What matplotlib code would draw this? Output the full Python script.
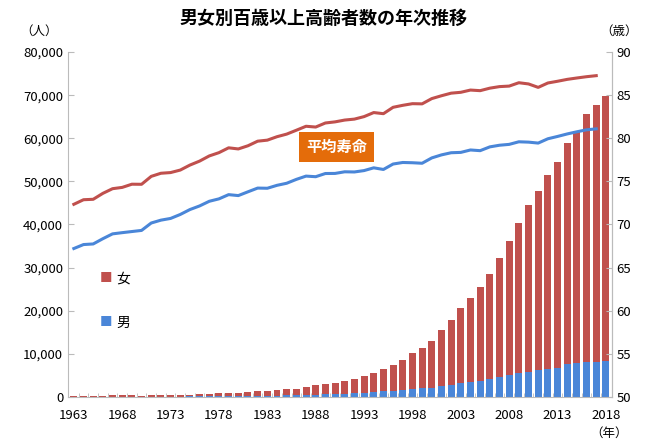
import matplotlib.pyplot as plt
import numpy as np

plt.rcParams['font.family'] = ['Noto Sans CJK JP', 'DejaVu Sans']

# 年次 (1963-2018)
years = list(range(1963, 2019))

# 百歳以上高齢者数 (人)
male = [20, 31, 36, 48, 52, 58, 77, 62, 64, 78, 87, 81, 102, 126, 126, 179, 200, 174,
        216, 266, 260, 306, 359, 385, 442, 527, 578, 680, 729, 822, 908, 1093, 1255,
        1400, 1570, 1812, 1973, 2158, 2541, 2875, 3159, 3523, 3779, 4150, 4613, 5063,
        5447, 5869, 6162, 6534, 6791, 7586, 7840, 8167, 8197, 8331]
female = [133, 160, 162, 204, 275, 269, 296, 248, 275, 327, 408, 346, 446, 540, 574, 712,
          737, 794, 856, 1088, 1094, 1261, 1381, 1466, 1829, 2141, 2500, 2618, 2896, 3330,
          3894, 4500, 5123, 5973, 6921, 8346, 9373, 10878, 12934, 15059, 17402, 19515,
          21775, 24245, 27682, 31213, 34952, 38580, 41594, 44842, 47606, 51234, 53728,
          57525, 59627, 61454]

# 平均寿命 (歳) 1963-2017
le_female = [72.34, 72.87, 72.92, 73.61, 74.15, 74.30, 74.67, 74.66, 75.58, 75.94, 76.02,
             76.31, 76.89, 77.35, 77.95, 78.33, 78.89, 78.76, 79.13, 79.66, 79.78, 80.18,
             80.48, 80.93, 81.39, 81.30, 81.77, 81.90, 82.11, 82.22, 82.51, 82.98, 82.85,
             83.59, 83.82, 84.01, 83.99, 84.60, 84.93, 85.23, 85.33, 85.59, 85.52, 85.81,
             85.99, 86.05, 86.44, 86.30, 85.90, 86.41, 86.61, 86.83, 86.99, 87.14, 87.26]
le_male = [67.21, 67.67, 67.74, 68.35, 68.91, 69.05, 69.18, 69.31, 70.17, 70.50, 70.70,
           71.16, 71.73, 72.15, 72.69, 72.97, 73.46, 73.35, 73.79, 74.22, 74.20, 74.54,
           74.78, 75.23, 75.61, 75.54, 75.91, 75.92, 76.11, 76.09, 76.25, 76.57, 76.38,
           77.01, 77.19, 77.16, 77.10, 77.72, 78.07, 78.32, 78.36, 78.64, 78.56, 79.00,
           79.19, 79.29, 79.59, 79.55, 79.44, 79.94, 80.21, 80.50, 80.75, 80.98, 81.09]

RED = '#C0504D'
BLUE = '#4A86D8'

x = np.arange(len(years))

fig = plt.figure(figsize=(6.48, 4.41), dpi=100)
ax = fig.add_axes([0.105, 0.10, 0.839, 0.782])

ax.bar(x, male, width=0.72, color=BLUE, zorder=2)
ax.bar(x, female, width=0.72, bottom=male, color=RED, zorder=2)

ax.set_xlim(-0.6, len(years) - 0.4)
ax.set_ylim(0, 80000)
ax.set_yticks(range(0, 80001, 10000))
ax.set_yticklabels([f'{v:,}' for v in range(0, 80001, 10000)], fontsize=9.5)
ax.set_xticks(x[::5])
ax.set_xticklabels([str(y) for y in years[::5]], fontsize=9.5)
ax.set_xticks(x[:-1] + 0.5, minor=True)
ax.tick_params(axis='x', which='major', length=0, pad=9)
ax.tick_params(axis='x', which='minor', length=3, color='#BBBBBB', direction='in')
ax.tick_params(axis='y', length=4, color='#BBBBBB', direction='in')

ax.spines['top'].set_visible(False)
ax.spines['left'].set_color('#BBBBBB')
ax.spines['bottom'].set_color('#BBBBBB')
ax.spines['right'].set_color('#BBBBBB')

ax2 = ax.twinx()
ax2.plot(x[:len(le_female)], le_female, color=RED, lw=2.2, zorder=3)
ax2.plot(x[:len(le_male)], le_male, color=BLUE, lw=2.2, zorder=3)
ax2.set_ylim(50, 90)
ax2.set_yticks(range(50, 91, 5))
ax2.tick_params(axis='y', labelsize=9.5, length=4, color='#BBBBBB', direction='in')
ax2.spines['top'].set_visible(False)
ax2.spines['right'].set_color('#BBBBBB')
ax2.spines['left'].set_visible(False)
ax2.spines['bottom'].set_visible(False)

fig.text(0.5, 0.958, '男女別百歳以上高齢者数の年次推移', ha='center', va='center',
         fontsize=13, fontweight='bold')
fig.text(0.06, 0.93, '（人）', ha='center', va='center', fontsize=9)
fig.text(0.955, 0.93, '（歳）', ha='center', va='center', fontsize=9)
fig.text(0.94, 0.018, '（年）', ha='center', va='center', fontsize=9)

ax.text(0.494, 0.725, '平均寿命', transform=ax.transAxes, ha='center', va='center',
        fontsize=11, fontweight='bold', color='white',
        bbox=dict(boxstyle='square,pad=0.45', fc='#E46C0A', ec='none'))

fig.text(0.163, 0.368, '■', color=RED, fontsize=9, ha='center', va='center')
fig.text(0.19, 0.368, '女', fontsize=10, ha='center', va='center')
fig.text(0.163, 0.268, '■', color=BLUE, fontsize=9, ha='center', va='center')
fig.text(0.19, 0.268, '男', fontsize=10, ha='center', va='center')

fig.savefig('out.png', dpi=100)
